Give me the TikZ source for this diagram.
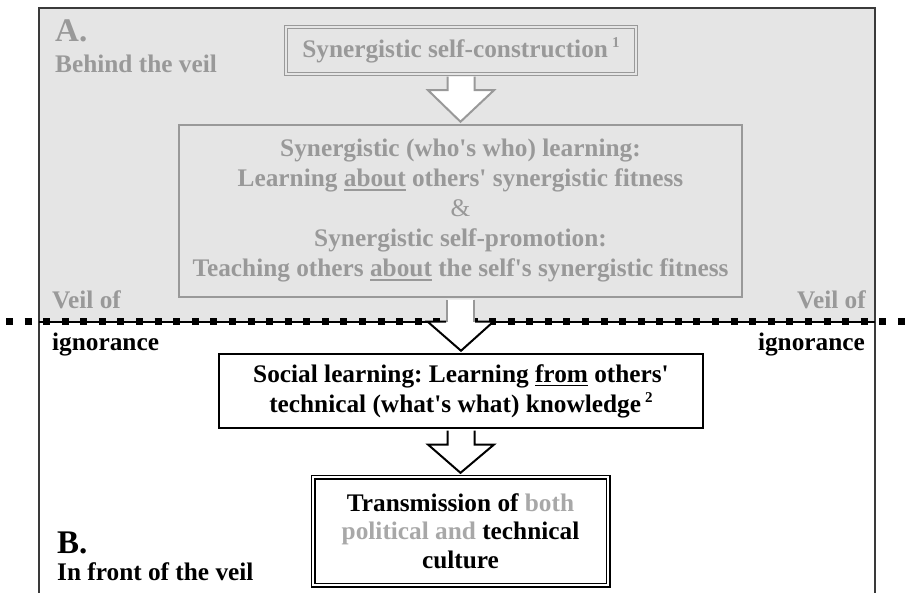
\documentclass[tikz,border=0pt]{standalone}
\usepackage{fontspec}
\setmainfont{Liberation Serif}
\usetikzlibrary{calc}
\definecolor{veilgray}{HTML}{E5E5E5}
\definecolor{txtgray}{HTML}{999999}
\definecolor{lightgray}{HTML}{A8A8A8}
\definecolor{framegray}{HTML}{3A3A3A}
\frenchspacing
\newcommand\supnum[1]{\,\raisebox{9.5pt}{\fontsize{15}{15}\selectfont #1}}
\newcommand\ulword[1]{\setbox0\hbox{#1}\rlap{\rule[-4.3pt]{\wd0}{1.9pt}}\box0{}}
\newcommand\q{\textquotesingle}
\newcommand\blockarr[4]{%
  \fill[white] ($(#2)+(-13.5,0)$) -- ($(#2)+(-13.5,#4)$) -- ($(#2)+(-33,#4)$) -- (#3)
     -- ($(#2)+(33,#4)$) -- ($(#2)+(13.5,#4)$) -- ($(#2)+(13.5,0)$) -- cycle;
  \draw[#1] ($(#2)+(-13.5,0)$) -- ($(#2)+(-13.5,#4)$) -- ($(#2)+(-33,#4)$) -- (#3)
     -- ($(#2)+(33,#4)$) -- ($(#2)+(13.5,#4)$) -- ($(#2)+(13.5,0)$);}
\begin{document}
\begin{tikzpicture}[x=1pt,y=-1pt,
  base/.style={font=\bfseries\fontsize{25.3}{30}\selectfont, inner sep=0pt},
  biglabel/.style={base, font=\bfseries\fontsize{33}{33}\selectfont},
  graybox/.style={base, draw=txtgray, fill=veilgray, text=txtgray, align=center},
  blackbox/.style={base, draw=black, fill=white, text=black, align=center},
  grayarrow/.style={draw=txtgray, line width=2pt},
  blackarrow/.style={draw=black, line width=2pt}]
\useasboundingbox (0,0) rectangle (907,593);
% veil region
\fill[veilgray] (39,8) rectangle (875,322);
\draw[framegray, line width=1.8pt] (39,593) -- (39,8) -- (875,8) -- (875,593);
% veil line
\draw[black, line width=1.2pt] (39,322) -- (875,322);
\draw[black, line width=7pt, dash pattern=on 7pt off 11.58pt] (6,322) -- (907,322);
% boxes
\node[graybox, double=veilgray, double distance=2.2pt, line width=1pt,
      minimum width=350pt, minimum height=47pt] (b1) at (461,50.5)
  {Synergistic self-construction\supnum{1}};
\node[graybox, line width=2.5pt, minimum width=563pt, minimum height=172pt] (b2) at (460.5,211)
  {Synergistic (who\q s who) learning:\\
   Learning \ulword{about} others\q{} synergistic fitness\\
   {\mdseries\&}\\
   Synergistic self-promotion:\\
   Teaching others \ulword{about} the self\q s synergistic fitness};
\node[blackbox, line width=2.5pt, minimum width=484pt, minimum height=74pt] (b3) at (461,391)
  {Social learning: Learning \ulword{from} others\q\\
   technical (what\q s what) knowledge\supnum{2}};
\node[blackbox, double=white, double distance=2.4pt, line width=1.3pt,
      minimum width=295pt, minimum height=108pt, font=\bfseries\fontsize{25.3}{28.5}\selectfont] (b4) at (460.5,531)
  {Transmission of \textcolor{lightgray}{both}\\
   \textcolor{lightgray}{political and} technical\\
   culture};
% labels
\node[biglabel, text=txtgray, anchor=base west] (la) at (55,42) {A.};
\node[base, text=txtgray, anchor=base west] (lbehind) at (55,73) {Behind the veil};
\node[biglabel, anchor=base west] (lb) at (57,553) {B.};
\node[base, anchor=base west] (lfront) at (57,580) {In front of the veil};
\node[base, text=txtgray, anchor=base west] (veilL) at (52,309) {Veil of};
\node[base, text=txtgray, anchor=base east] (veilR) at (866,309) {Veil of};
\node[base, anchor=base west] (ignL) at (52,351) {ignorance};
\node[base, anchor=base east] (ignR) at (865,351) {ignorance};
% arrows
\coordinate (a1s) at ($(b1.south)+(0,2.2)$);
\coordinate (a1t) at ($(b2.north)+(0,-2)$);
\blockarr{grayarrow}{a1s}{a1t}{13.5}
\coordinate (a2s) at ($(b2.south)+(0,1.3)$);
\coordinate (a2t) at ($(b3.north)+(0,-2)$);
\fill[white] ($(a2s)+(-13.5,0)$) -- ($(a2s)+(-13.5,22)$) -- ($(a2s)+(-33,22)$) -- (a2t)
   -- ($(a2s)+(33,22)$) -- ($(a2s)+(13.5,22)$) -- ($(a2s)+(13.5,0)$) -- cycle;
\draw[grayarrow] ($(a2s)+(-13.5,0)$) -- ($(a2s)+(-13.5,22)$);
\draw[grayarrow] ($(a2s)+(13.5,0)$) -- ($(a2s)+(13.5,22)$);
\draw[blackarrow] ($(a2s)+(-14.5,22)$) -- ($(a2s)+(-33,22)$) -- (a2t) -- ($(a2s)+(33,22)$) -- ($(a2s)+(14.5,22)$);
\coordinate (a3s) at ($(b3.south)+(0,1.3)$);
\coordinate (a3t) at ($(b4.north)+(0,-3.5)$);
\blockarr{blackarrow}{a3s}{a3t}{14}
\end{tikzpicture}
\end{document}
